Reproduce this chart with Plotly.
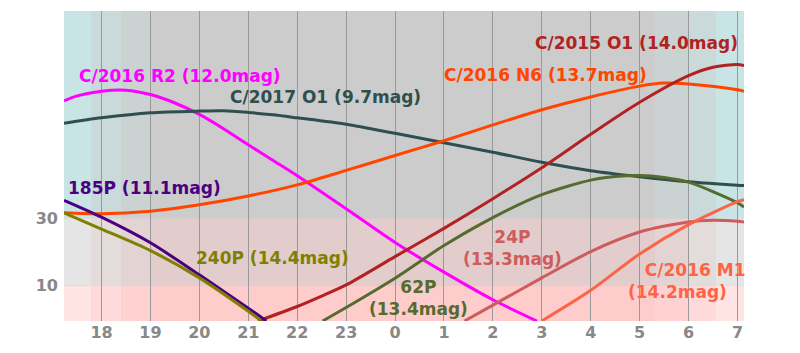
import plotly.graph_objects as go

# ---------------- data (hour of night, altitude in degrees) ----------------
# hours continue past midnight (24 = 0h, 25 = 1h, ...)
r2_h   = [17.233, 17.5, 18.0, 18.5, 19.0, 19.5, 20.0, 20.5, 21.0, 21.5, 22.0, 23.0, 24.0, 25.0, 26.0, 26.9]
r2_alt = [64.8, 66.3, 67.7, 68.0, 66.7, 64.2, 60.8, 56.5, 51.8, 47.2, 42.6, 32.8, 22.8, 14.0, 5.8, -0.5]

o1_17_h   = [17.233, 18.0, 19.0, 20.0, 20.5, 21.0, 21.5, 22.0, 23.0, 24.0, 25.0, 26.0, 27.0, 28.0, 29.0, 30.0, 31.0, 31.133]
o1_17_alt = [58.2, 59.8, 61.3, 61.8, 61.9, 61.4, 60.7, 59.8, 57.9, 55.2, 52.4, 49.6, 46.6, 44.1, 42.3, 40.8, 39.8, 39.7]

n6_h   = [17.233, 18.0, 19.0, 20.0, 21.0, 22.0, 23.0, 24.0, 25.0, 26.0, 27.0, 28.0, 29.0, 29.5, 30.0, 31.0, 31.133]
n6_alt = [31.6, 31.3, 32.1, 34.0, 36.6, 39.9, 44.2, 48.6, 53.0, 57.7, 62.2, 66.0, 69.2, 70.1, 69.8, 68.1, 67.7]

o1_15_h   = [21.2, 22.0, 22.5, 23.0, 24.0, 25.0, 26.0, 27.0, 28.0, 29.0, 30.0, 30.5, 31.0, 31.133]
o1_15_alt = [-0.5, 3.8, 6.9, 10.2, 18.6, 27.0, 35.8, 45.0, 54.9, 64.4, 72.3, 74.8, 75.6, 75.3]

p62_h   = [22.52, 23.0, 24.0, 25.0, 26.0, 27.0, 28.0, 28.5, 29.0, 29.5, 30.0, 31.0, 31.133]
p62_alt = [-0.5, 3.5, 12.2, 21.9, 30.2, 37.0, 41.3, 42.4, 42.7, 42.1, 40.7, 34.6, 33.3]

p24_h   = [25.42, 26.0, 27.0, 28.0, 29.0, 30.0, 30.5, 31.0, 31.133]
p24_alt = [-0.5, 4.2, 12.3, 20.1, 25.9, 28.9, 29.4, 29.1, 28.9]

m1_h   = [27.0, 28.0, 29.0, 30.0, 31.0, 31.133]
m1_alt = [-0.5, 8.6, 19.4, 28.1, 34.9, 35.5]

p185_h   = [17.233, 18.0, 19.0, 20.0, 21.0, 21.37]
p185_alt = [35.3, 30.3, 22.7, 13.2, 3.3, -0.5]

p240_h   = [17.233, 18.0, 19.0, 20.0, 21.0, 21.26]
p240_alt = [31.6, 26.8, 20.4, 12.3, 2.4, -0.4]

# tick labels
tick_vals  = [18, 19, 20, 21, 22, 23, 24, 25, 26, 27, 28, 29, 30, 31]
tick_texts = ["18", "19", "20", "21", "22", "23", "0", "1", "2", "3", "4", "5", "6", "7"]
y_tick_vals  = [10, 30]
y_tick_texts = ["10", "30"]

# sky-state boundaries (hours) and altitude thresholds
sky_bounds = [17.233, 17.80, 18.41, 19.0, 29.31, 30.0, 30.56, 31.133]
alt_bounds = [-0.5, 10, 30, 91.5]
band_colors = [
    ["#ffe4e4", "#ffdada", "#ffd2d2", "#ffcccc", "#ffd2d2", "#ffdada", "#ffe4e4"],
    ["#e5e5e5", "#e4dbdb", "#e4d3d3", "#e3cccc", "#e4d3d3", "#e4dbdb", "#e5e5e5"],
    ["#c9e4e4", "#cadada", "#cbd2d2", "#cccccc", "#cbd2d2", "#cadada", "#c9e4e4"],
]

series = [
    ("C/2016 R2", r2_h, r2_alt, "#ff00ff"),
    ("C/2017 O1", o1_17_h, o1_17_alt, "#2f4f4f"),
    ("C/2016 N6", n6_h, n6_alt, "#ff4500"),
    ("C/2015 O1", o1_15_h, o1_15_alt, "#b22222"),
    ("62P", p62_h, p62_alt, "#556b2f"),
    ("24P", p24_h, p24_alt, "#cd5c5c"),
    ("C/2016 M1", m1_h, m1_alt, "#ff6347"),
    ("185P", p185_h, p185_alt, "#4b0082"),
    ("240P", p240_h, p240_alt, "#808000"),
]

NB = "\u00a0"
labels = [
    ("C/2016 R2 (12.0mag)", 19.60, 72.3, "#ff00ff"),
    ("C/2017 O1 (9.7mag)", 22.57, 66.1, "#2f4f4f"),
    ("C/2016 N6 (13.7mag)", 27.07, 72.6, "#ff4500"),
    ("C/2015 O1 (14.0mag)", 28.93, 82.1, "#b22222"),
    ("185P (11.1mag)", 18.88, 39.0, "#4b0082"),
    ("240P (14.4mag)", 21.50, 18.1, "#808000"),
    ("62P<br>(13.4mag)", 24.47, 6.4, "#556b2f"),
    ("24P<br>(13.3mag)", 26.41, 21.2, "#cd5c5c"),
    ("C/2016 M1<br>(14.2mag)" + NB * 6, 30.14, 11.3, "#ff6347"),
]

fig = go.Figure()
for name, xs, ys, col in series:
    fig.add_trace(go.Scatter(x=xs, y=ys, mode="lines", name=name,
                             line=dict(color=col, width=3, shape="spline", smoothing=0.8),
                             hoverinfo="skip"))

shapes = []
for r in range(len(alt_bounds) - 1):
    for c in range(len(sky_bounds) - 1):
        shapes.append(dict(type="rect", xref="x", yref="y", layer="below",
                           x0=sky_bounds[c], x1=sky_bounds[c + 1],
                           y0=alt_bounds[r], y1=alt_bounds[r + 1],
                           fillcolor=band_colors[r][c], line=dict(width=0)))

annotations = []
for txt, x, y, col in labels:
    annotations.append(dict(text=txt, x=x, y=y, xref="x", yref="y", showarrow=False,
                            align="center",
                            font=dict(family="DejaVu Sans", size=17, color=col, weight="bold")))

fig.update_layout(
    width=800, height=353,
    margin=dict(l=64, r=56, t=11, b=30),
    paper_bgcolor="white", plot_bgcolor="#cccccc",
    showlegend=False,
    shapes=shapes, annotations=annotations,
    font=dict(family="DejaVu Sans", size=16, color="#888888", weight="bold"),
    xaxis=dict(range=[sky_bounds[0], sky_bounds[-1]], tickvals=tick_vals, ticktext=tick_texts,
               showgrid=True, gridcolor="#999999", gridwidth=1, zeroline=False,
               showline=False, ticks="",
               tickfont=dict(family="DejaVu Sans", size=16, color="#888888", weight="bold")),
    yaxis=dict(range=[alt_bounds[0], alt_bounds[-1]], tickvals=y_tick_vals, ticktext=y_tick_texts,
               showgrid=False, zeroline=False, showline=False, ticks="", ticklabelstandoff=5,
               tickfont=dict(family="DejaVu Sans", size=16, color="#888888", weight="bold")),
)

fig.write_html("out.html")
